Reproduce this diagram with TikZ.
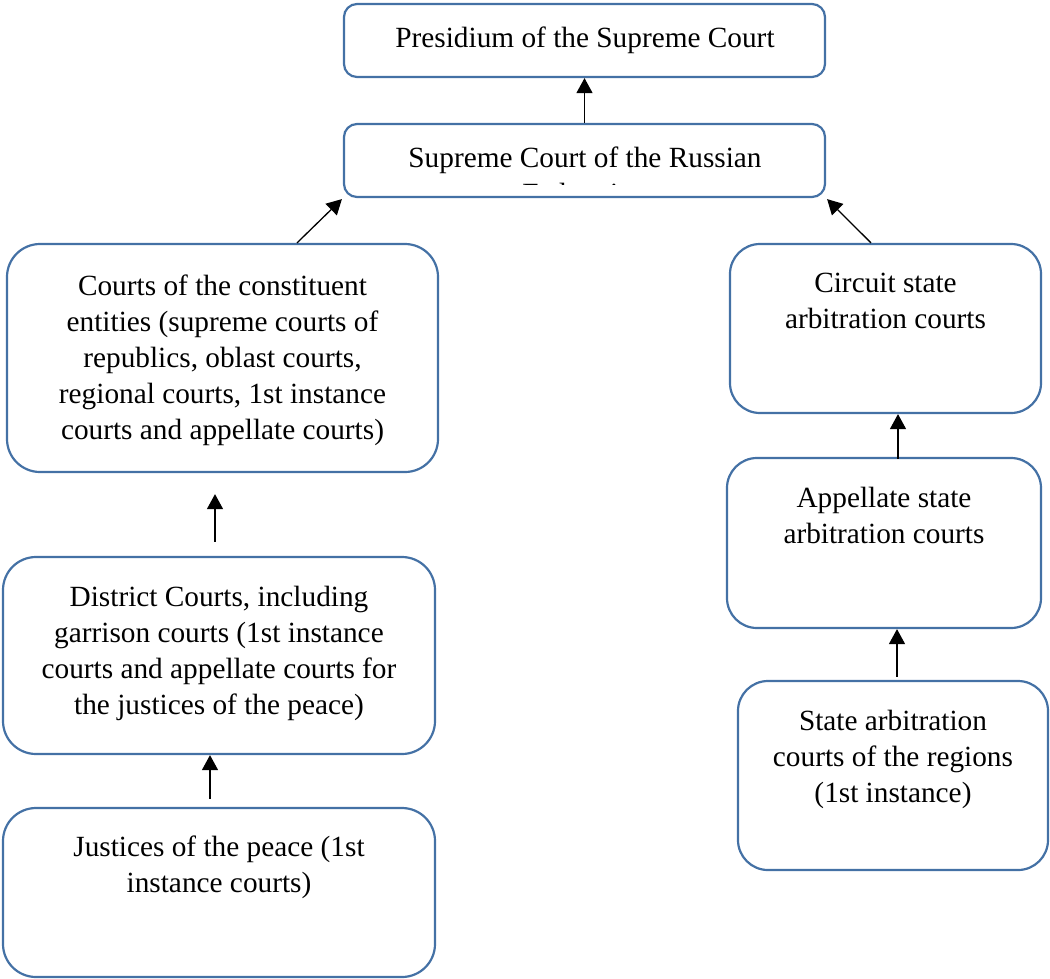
\documentclass[tikz,border=0pt]{standalone}
\usepackage{fontspec}
\setmainfont{Liberation Serif}
\usetikzlibrary{arrows.meta,calc}
\definecolor{boxblue}{RGB}{68,113,165}
\tikzset{
  box/.style={draw=boxblue, line width=2.2pt, rounded corners=#1, fill=white, inner sep=0pt},
  box/.default=30pt,
  txt/.style={anchor=north, align=center, inner sep=0pt, font=\fontsize{29.3}{36}\selectfont},
  arr/.style={line width=1.3pt, -{Triangle[length=15pt,width=16pt]}}
}
\begin{document}
\begin{tikzpicture}[x=1pt,y=-1pt]
\useasboundingbox (0,0) rectangle (1050,978);
% boxes
\node[box=13pt, minimum width=481pt, minimum height=73pt] (pres) at (584.5,40.5) {};
\node[box=13pt, minimum width=481pt, minimum height=73pt] (sup) at (584.5,160.5) {};
\node[box=33pt, minimum width=431pt, minimum height=228pt] (courts) at (222.5,358) {};
\node[box=30pt, minimum width=311pt, minimum height=169pt] (circ) at (885.5,328.5) {};
\node[box=30pt, minimum width=314pt, minimum height=170pt] (app) at (884,543) {};
\node[box=30pt, minimum width=310pt, minimum height=189pt] (reg) at (893,775.5) {};
\node[box=33pt, minimum width=432pt, minimum height=197pt] (dist) at (219,655.5) {};
\node[box=33pt, minimum width=432pt, minimum height=169pt] (just) at (219,892.5) {};
% texts
\node[txt, anchor=base] (tpres) at (585,47) {Presidium of the Supreme Court};
\begin{scope}
\clip (346,126) rectangle (823,184);
\node[txt] (tsup) at (585,147) {Supreme Court of the Russian\\Federation};
\end{scope}
\node[txt] (tcourts) at (222.5,275) {Courts of the constituent\\entities (supreme courts of\\republics, oblast courts,\\regional courts, 1st instance\\courts and appellate courts)};
\node[txt] (tcirc) at (885.5,273) {Circuit state\\arbitration courts};
\node[txt] (tapp) at (884,487) {Appellate state\\arbitration courts};
\node[txt] (treg) at (893,710) {State arbitration\\courts of the regions\\(1st instance)};
\node[txt] (tdist) at (219,586) {District Courts, including\\garrison courts (1st instance\\courts and appellate courts for\\the justices of the peace)};
\node[txt] (tjust) at (219,836) {Justices of the peace (1st\\instance courts)};
% arrows
\draw[arr] (sup.north) -- (pres.south);
\draw[arr] ([xshift=74.5pt]courts.north) -- ([shift={(-1pt,-1pt)}]sup.south west);
\draw[arr] ([xshift=-14.5pt]circ.north) -- ([shift={(1pt,-1pt)}]sup.south east);
\draw[arr] ([xshift=-4pt,yshift=14pt]dist.north) -- ([xshift=-4pt,yshift=-21pt]dist.north |- courts.south);
\draw[arr] ([xshift=-9pt,yshift=8pt]just.north) -- ([xshift=-9pt]just.north |- dist.south);
\draw[arr] ([xshift=14pt,yshift=-2pt]app.north) -- ([xshift=14pt]app.north |- circ.south);
\draw[arr] ([xshift=4pt,yshift=3pt]reg.north) -- ([xshift=4pt]reg.north |- app.south);
\end{tikzpicture}
\end{document}
